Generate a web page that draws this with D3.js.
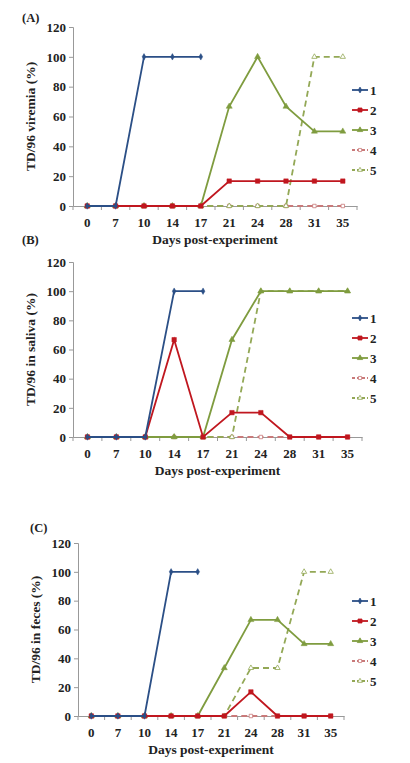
<!DOCTYPE html><html><head><script src="https://cdn.jsdelivr.net/npm/d3@7"></script>
<style>body{margin:0;background:#fff}text{font-family:"Liberation Serif",serif;font-weight:bold;fill:#222}</style></head><body><svg width="410" height="763"></svg><script>
const days=["0","7","10","14","17","21","24","28","31","35"];
const yTicks=[0,20,40,60,80,100,120];
const seriesNames=["1","2","3","4","5"];
const A1=[0,0,100,100,100],A2=[0,0,0,0,0,16.7,16.7,16.7,16.7,16.7],A3=[0,0,0,0,0,66.7,100,66.7,50,50],A4=[0,0,0,0,0,0,0,0,0,0],A5=[0,0,0,0,0,0,0,0,100,100];
const B1=[0,0,0,100,100],B2=[0,0,0,66.7,0,16.7,16.7,0,0,0],B3=[0,0,0,0,0,66.7,100,100,100,100],B4=[0,0,0,0,0,0,0,0,0,0],B5=[0,0,0,0,0,0,100,100,100,100];
const C1=[0,0,0,100,100],C2=[0,0,0,0,0,0,16.7,0,0,0],C3=[0,0,0,0,0,33.3,66.7,66.7,50,50],C4=[0,0,0,0,0,0,0,0,0,0],C5=[0,0,0,0,0,0,33.3,33.3,100,100];
const colors=["#2b4f86","#c0171f","#7f9c3f","#c97a7a","#93a856"];
const panels=[
 {lab:"(A)",yl:"TD/96 viremia (%)",d:[A1,A2,A3,A4,A5],x0:73,x1:357,yt:27,yb:206,labx:22,laby:22,lgx:352,lgy:90},
 {lab:"(B)",yl:"TD/96 in saliva (%)",d:[B1,B2,B3,B4,B5],x0:73,x1:362,yt:262,yb:437,labx:22,laby:244,lgx:352,lgy:318},
 {lab:"(C)",yl:"TD/96 in feces (%)",d:[C1,C2,C3,C4,C5],x0:78,x1:344,yt:543,yb:716,labx:30,laby:532,lgx:352,lgy:601}];
const svg=d3.select("svg");
panels.forEach(p=>{
 const g=svg.append("g");
 const x=d3.scaleBand().domain(days).range([p.x0,p.x1]);
 const cx=d=>x(d)+x.bandwidth()/2;
 const y=d3.scaleLinear().domain([0,120]).range([p.yb,p.yt]);
 const ya=g.append("g").attr("transform",`translate(${p.x0},0)`).call(d3.axisLeft(y).tickValues(yTicks).tickSize(4));
 const xa=g.append("g").attr("transform",`translate(0,${p.yb})`).call(d3.axisBottom(x).tickSize(0).tickPadding(12));
 [ya,xa].forEach(a=>{a.select(".domain").attr("stroke","#999");a.selectAll("line").attr("stroke","#999");a.selectAll("text").attr("font-size",13).style("font-family","Liberation Serif").style("font-weight","bold").attr("fill","#222");});
 days.forEach((d,i)=>g.append("line").attr("x1",x(d)).attr("x2",x(d)).attr("y1",p.yb).attr("y2",p.yb+4).attr("stroke","#999"));
 g.append("line").attr("x1",p.x1).attr("x2",p.x1).attr("y1",p.yb).attr("y2",p.yb+4).attr("stroke","#999");
 g.append("text").attr("x",(p.x0+p.x1)/2).attr("y",p.yb+38).attr("text-anchor","middle").attr("font-size",13.5).text("Days post-experiment");
 g.append("text").attr("transform",`translate(${p.x0-38},${(p.yt+p.yb)/2}) rotate(-90)`).attr("text-anchor","middle").attr("font-size",13.5).text(p.yl);
 g.append("text").attr("x",p.labx).attr("y",p.laby).attr("font-size",12.5).text(p.lab);
 const order=[3,4,2,1,0];
 const sym=[d3.symbolDiamond,d3.symbolSquare,d3.symbolTriangle,d3.symbolSquare,d3.symbolTriangle];
 const sz=[12,20,16,12,12];
 order.forEach(k=>{
  const vals=p.d[k];
  const line=d3.line().x((v,i)=>cx(days[i])).y(v=>y(v));
  g.append("path").attr("d",line(vals)).attr("fill","none").attr("stroke",colors[k]).attr("stroke-width",1.8).attr("stroke-dasharray",k>=3?"6,4":null);
  vals.forEach((v,i)=>g.append("path").attr("d",d3.symbol(sym[k],sz[k])()).attr("transform",`translate(${cx(days[i])},${y(v)})`).attr("fill",k>=3?"#fff":colors[k]).attr("stroke",colors[k]).attr("stroke-width",k>=3?0.8:0.5));
 });
 seriesNames.forEach((n,k)=>{
  const ly=p.lgy+k*20;
  g.append("line").attr("x1",p.lgx).attr("x2",p.lgx+16).attr("y1",ly).attr("y2",ly).attr("stroke",colors[k]).attr("stroke-width",1.8).attr("stroke-dasharray",k>=3?"3,2":null);
  g.append("path").attr("d",d3.symbol(sym[k],sz[k]*0.8)()).attr("transform",`translate(${p.lgx+8},${ly})`).attr("fill",k>=3?"#fff":colors[k]).attr("stroke",colors[k]).attr("stroke-width",0.8);
  g.append("text").attr("x",p.lgx+18).attr("y",ly+4.5).attr("font-size",13).text(n);
 });
});
</script></body></html>
